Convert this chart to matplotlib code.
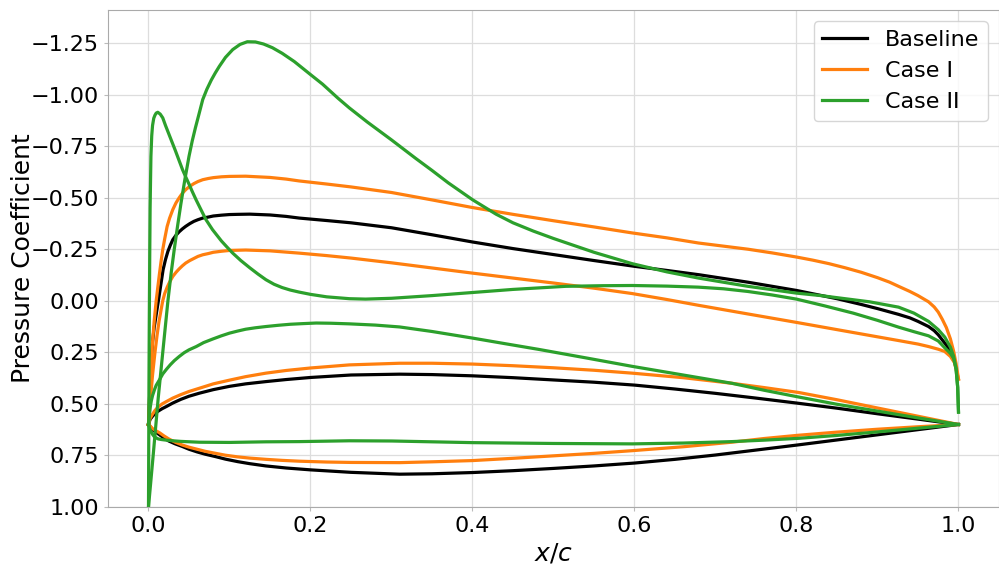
import matplotlib
matplotlib.use("Agg")
import matplotlib.pyplot as plt

# ---- Baseline ----
base_up_x = [0.0, 0.001, 0.002, 0.0035, 0.005, 0.007, 0.009, 0.011, 0.013, 0.0155, 0.018, 0.021, 0.024,
             0.027, 0.030, 0.034, 0.038, 0.042, 0.046, 0.051, 0.056, 0.061, 0.067, 0.074, 0.080, 0.090,
             0.100, 0.110, 0.125, 0.150, 0.170, 0.186, 0.220, 0.250, 0.300, 0.350, 0.400, 0.450, 0.500,
             0.550, 0.600, 0.640, 0.680, 0.740, 0.800, 0.850, 0.880, 0.900, 0.926, 0.940, 0.950, 0.963,
             0.970, 0.975, 0.980, 0.985, 0.989, 0.993]
base_up_cp = [0.60, 0.50, 0.40, 0.29, 0.20, 0.13, 0.08, 0.03, -0.02, -0.085, -0.15, -0.20, -0.24,
              -0.27, -0.296, -0.318, -0.335, -0.349, -0.361, -0.374, -0.385, -0.393, -0.401, -0.406, -0.411, -0.415,
              -0.418, -0.419, -0.420, -0.416, -0.409, -0.401, -0.389, -0.378, -0.354, -0.32, -0.285, -0.253, -0.224,
              -0.195, -0.167, -0.147, -0.126, -0.09, -0.05, -0.01, 0.018, 0.038, 0.066, 0.083, 0.10, 0.125,
              0.145, 0.165, 0.19, 0.215, 0.24, 0.27]

base_lo1_x = [0.0, 0.002, 0.005, 0.008, 0.012, 0.017, 0.022, 0.030, 0.040, 0.050, 0.063, 0.080, 0.100,
              0.120, 0.145, 0.170, 0.200, 0.250, 0.310, 0.350, 0.400, 0.450, 0.500, 0.550, 0.600, 0.650,
              0.700, 0.750, 0.800, 0.850, 0.900, 0.950, 1.0]
base_lo1_cp = [0.60, 0.575, 0.56, 0.547, 0.535, 0.523, 0.513, 0.496, 0.478, 0.463, 0.448, 0.431, 0.415,
               0.403, 0.392, 0.382, 0.372, 0.36, 0.356, 0.358, 0.364, 0.373, 0.384, 0.395, 0.409, 0.428,
               0.449, 0.472, 0.496, 0.521, 0.548, 0.574, 0.60]

base_lo2_x = [0.0, 0.002, 0.005, 0.009, 0.0136, 0.019, 0.025, 0.033, 0.042, 0.050, 0.060, 0.070, 0.083,
              0.095, 0.110, 0.125, 0.145, 0.170, 0.200, 0.250, 0.310, 0.350, 0.400, 0.450, 0.500, 0.550,
              0.600, 0.650, 0.700, 0.750, 0.800, 0.850, 0.900, 0.950, 1.0]
base_lo2_cp = [0.60, 0.61, 0.625, 0.637, 0.65, 0.665, 0.68, 0.694, 0.707, 0.72, 0.733, 0.744, 0.756,
               0.768, 0.78, 0.79, 0.801, 0.811, 0.82, 0.832, 0.841, 0.839, 0.833, 0.824, 0.813, 0.801,
               0.787, 0.769, 0.748, 0.724, 0.70, 0.675, 0.65, 0.625, 0.60]

# ---- Case I ----
c1_up1_x = [0.0, 0.001, 0.002, 0.0035, 0.005, 0.007, 0.0095, 0.0115, 0.0135, 0.0155, 0.0176, 0.020, 0.023,
            0.026, 0.030, 0.034, 0.038, 0.042, 0.046, 0.051, 0.056, 0.061, 0.067, 0.074, 0.080, 0.090,
            0.100, 0.120, 0.150, 0.170, 0.186, 0.220, 0.250, 0.300, 0.350, 0.400, 0.450, 0.500, 0.550,
            0.597, 0.640, 0.679, 0.740, 0.770, 0.800, 0.820, 0.840, 0.860, 0.880, 0.900, 0.915, 0.926,
            0.940, 0.950, 0.963, 0.970, 0.975, 0.980, 0.985, 0.990, 0.994, 0.997, 1.0]
c1_up1_cp = [0.60, 0.50, 0.40, 0.30, 0.20, 0.10, 0.0, -0.065, -0.13, -0.19, -0.248, -0.30, -0.36,
             -0.40, -0.442, -0.475, -0.50, -0.522, -0.539, -0.555, -0.568, -0.578, -0.587, -0.593, -0.597, -0.601,
             -0.603, -0.604, -0.598, -0.59, -0.581, -0.566, -0.552, -0.525, -0.489, -0.452, -0.419, -0.388, -0.358,
             -0.329, -0.305, -0.28, -0.25, -0.232, -0.212, -0.197, -0.18, -0.16, -0.138, -0.112, -0.09, -0.07,
             -0.045, -0.025, 0.005, 0.03, 0.055, 0.09, 0.13, 0.185, 0.245, 0.305, 0.38]

c1_up2_x = [0.0, 0.0015, 0.003, 0.005, 0.008, 0.0105, 0.013, 0.0155, 0.0176, 0.020, 0.023, 0.026, 0.030,
            0.034, 0.038, 0.042, 0.046, 0.051, 0.056, 0.061, 0.067, 0.074, 0.080, 0.090, 0.100, 0.120,
            0.150, 0.186, 0.220, 0.250, 0.300, 0.350, 0.400, 0.450, 0.500, 0.550, 0.597, 0.640, 0.679,
            0.740, 0.800, 0.860, 0.926, 0.950, 0.963, 0.975, 0.983, 0.990, 0.995, 1.0]
c1_up2_cp = [0.60, 0.52, 0.45, 0.36, 0.25, 0.17, 0.10, 0.045, 0.0, -0.035, -0.065, -0.09, -0.118,
             -0.138, -0.155, -0.17, -0.183, -0.195, -0.205, -0.215, -0.223, -0.229, -0.235, -0.24, -0.244, -0.246,
             -0.242, -0.231, -0.219, -0.207, -0.184, -0.159, -0.134, -0.11, -0.086, -0.061, -0.035, -0.006, 0.022,
             0.064, 0.105, 0.147, 0.193, 0.21, 0.222, 0.235, 0.246, 0.27, 0.30, 0.38]

c1_lo1_x = [0.0, 0.002, 0.005, 0.008, 0.012, 0.017, 0.022, 0.030, 0.040, 0.050, 0.063, 0.080, 0.100,
            0.120, 0.145, 0.170, 0.200, 0.248, 0.310, 0.350, 0.400, 0.450, 0.500, 0.550, 0.597, 0.660,
            0.720, 0.760, 0.803, 0.850, 0.900, 0.950, 1.0]
c1_lo1_cp = [0.60, 0.57, 0.55, 0.532, 0.515, 0.50, 0.489, 0.472, 0.455, 0.44, 0.424, 0.403, 0.385,
             0.368, 0.351, 0.338, 0.326, 0.311, 0.303, 0.303, 0.307, 0.315, 0.325, 0.337, 0.351, 0.373,
             0.40, 0.421, 0.445, 0.48, 0.52, 0.56, 0.60]

c1_lo2_x = [0.0, 0.002, 0.005, 0.009, 0.0136, 0.019, 0.025, 0.033, 0.042, 0.050, 0.060, 0.070, 0.083,
            0.095, 0.110, 0.125, 0.145, 0.165, 0.186, 0.220, 0.250, 0.310, 0.350, 0.400, 0.450, 0.500,
            0.550, 0.597, 0.660, 0.720, 0.760, 0.803, 0.850, 0.900, 0.950, 1.0]
c1_lo2_cp = [0.60, 0.607, 0.62, 0.63, 0.64, 0.655, 0.67, 0.686, 0.70, 0.71, 0.72, 0.73, 0.74,
             0.749, 0.757, 0.763, 0.769, 0.774, 0.778, 0.782, 0.784, 0.785, 0.781, 0.775, 0.764, 0.752,
             0.74, 0.727, 0.708, 0.686, 0.668, 0.652, 0.637, 0.623, 0.611, 0.60]

# ---- Case II ----
c2_up1_x = [0.0, 0.006, 0.012, 0.018, 0.024, 0.028, 0.032, 0.036, 0.040, 0.045, 0.050, 0.054, 0.058,
            0.062, 0.067, 0.072, 0.0775, 0.0825, 0.0875, 0.095, 0.104, 0.113, 0.122, 0.132, 0.142, 0.153,
            0.165, 0.180, 0.199, 0.215, 0.234, 0.248, 0.270, 0.300, 0.330, 0.350, 0.370, 0.400, 0.429,
            0.450, 0.475, 0.500, 0.550, 0.597, 0.640, 0.679, 0.740, 0.800, 0.830, 0.860, 0.890, 0.926,
            0.945, 0.963, 0.975, 0.983, 0.990, 0.994, 0.997, 0.999, 1.0]
c2_up1_cp = [1.0, 0.74, 0.472, 0.235, 0.0, -0.135, -0.255, -0.365, -0.47, -0.59, -0.70, -0.775, -0.84,
             -0.90, -0.976, -1.025, -1.07, -1.105, -1.137, -1.18, -1.218, -1.243, -1.256, -1.255, -1.245, -1.227,
             -1.20, -1.16, -1.10, -1.05, -0.982, -0.935, -0.867, -0.78, -0.69, -0.632, -0.572, -0.49, -0.42,
             -0.378, -0.338, -0.302, -0.235, -0.18, -0.14, -0.11, -0.07, -0.037, -0.025, -0.01, 0.005, 0.031,
             0.06, 0.10, 0.14, 0.176, 0.225, 0.27, 0.33, 0.42, 0.54]

c2_up2_x = [0.0, 0.0003, 0.0006, 0.001, 0.0015, 0.002, 0.003, 0.004, 0.005, 0.0065, 0.008, 0.0095, 0.0115,
            0.0145, 0.0176, 0.021, 0.025, 0.029, 0.033, 0.0375, 0.042, 0.046, 0.050, 0.054, 0.0587, 0.065,
            0.071, 0.079, 0.085, 0.090, 0.097, 0.104, 0.114, 0.125, 0.135, 0.145, 0.155, 0.165, 0.175,
            0.186, 0.200, 0.220, 0.248, 0.268, 0.300, 0.350, 0.400, 0.450, 0.515, 0.560, 0.597, 0.640,
            0.679, 0.710, 0.740, 0.770, 0.800, 0.835, 0.870, 0.900, 0.926, 0.945, 0.963, 0.975, 0.983,
            0.990, 0.994, 0.997, 0.999, 1.0]
c2_up2_cp = [1.0, 0.7, 0.4, 0.1, -0.2, -0.45, -0.70, -0.80, -0.85, -0.885, -0.90, -0.91, -0.914,
             -0.905, -0.887, -0.85, -0.81, -0.77, -0.73, -0.683, -0.636, -0.60, -0.566, -0.53, -0.49, -0.44,
             -0.393, -0.345, -0.315, -0.29, -0.26, -0.231, -0.195, -0.16, -0.13, -0.102, -0.08, -0.064, -0.052,
             -0.042, -0.031, -0.019, -0.01, -0.008, -0.012, -0.025, -0.04, -0.055, -0.07, -0.073, -0.074, -0.071,
             -0.066, -0.058, -0.045, -0.028, -0.008, 0.025, 0.06, 0.095, 0.128, 0.15, 0.17, 0.195, 0.228,
             0.255, 0.28, 0.33, 0.42, 0.54]

c2_lo1_x = [0.0, 0.001, 0.002, 0.0035, 0.005, 0.0075, 0.0095, 0.0136, 0.0176, 0.022, 0.027, 0.032, 0.038,
            0.044, 0.050, 0.059, 0.068, 0.079, 0.090, 0.100, 0.110, 0.120, 0.132, 0.145, 0.160, 0.175,
            0.190, 0.207, 0.225, 0.248, 0.280, 0.310, 0.350, 0.400, 0.440, 0.482, 0.540, 0.597, 0.660,
            0.720, 0.760, 0.803, 0.850, 0.900, 0.950, 1.0]
c2_lo1_cp = [0.60, 0.56, 0.52, 0.485, 0.46, 0.43, 0.41, 0.383, 0.355, 0.333, 0.31, 0.29, 0.27,
             0.252, 0.238, 0.222, 0.203, 0.186, 0.17, 0.157, 0.147, 0.138, 0.131, 0.125, 0.119, 0.114,
             0.111, 0.108, 0.109, 0.112, 0.118, 0.127, 0.149, 0.181, 0.208, 0.236, 0.277, 0.318, 0.36,
             0.40, 0.434, 0.467, 0.502, 0.535, 0.568, 0.60]

c2_lo2_x = [0.0, 0.0015, 0.003, 0.005, 0.007, 0.0095, 0.012, 0.016, 0.022, 0.030, 0.040, 0.063, 0.100,
            0.145, 0.186, 0.248, 0.300, 0.350, 0.400, 0.500, 0.597, 0.660, 0.720, 0.760, 0.803, 0.850,
            0.900, 0.950, 1.0]
c2_lo2_cp = [0.60, 0.62, 0.635, 0.648, 0.658, 0.665, 0.67, 0.673, 0.676, 0.679, 0.682, 0.686, 0.687,
             0.684, 0.683, 0.679, 0.680, 0.684, 0.688, 0.692, 0.694, 0.69, 0.683, 0.676, 0.667, 0.653,
             0.636, 0.618, 0.60]

fig = plt.figure(figsize=(9.99, 5.64), dpi=100)
ax = fig.add_axes([0.1081, 0.1011, 0.8919, 0.8812])

lw = 2.3
ax.plot(base_up_x, base_up_cp, color='black', lw=lw, label='Baseline')
ax.plot(base_lo1_x, base_lo1_cp, color='black', lw=lw)
ax.plot(base_lo2_x, base_lo2_cp, color='black', lw=lw)

ax.plot(c1_up1_x, c1_up1_cp, color='#ff7f0e', lw=lw, label='Case I')
ax.plot(c1_up2_x, c1_up2_cp, color='#ff7f0e', lw=lw)
ax.plot(c1_lo1_x, c1_lo1_cp, color='#ff7f0e', lw=lw)
ax.plot(c1_lo2_x, c1_lo2_cp, color='#ff7f0e', lw=lw)

ax.plot(c2_up1_x, c2_up1_cp, color='#2ca02c', lw=lw, label='Case II')
ax.plot(c2_up2_x, c2_up2_cp, color='#2ca02c', lw=lw)
ax.plot(c2_lo1_x, c2_lo1_cp, color='#2ca02c', lw=lw)
ax.plot(c2_lo2_x, c2_lo2_cp, color='#2ca02c', lw=lw)

ax.set_xlim(-0.05, 1.05)
ax.set_ylim(1.0, -1.41)
ax.set_xticks([0.0, 0.2, 0.4, 0.6, 0.8, 1.0])
ax.set_yticks([-1.25, -1.0, -0.75, -0.5, -0.25, 0.0, 0.25, 0.5, 0.75, 1.0])

ax.grid(True, color='#dddddd', lw=0.9)
ax.set_axisbelow(True)
for s in ax.spines.values():
    s.set_color('#aaaaaa')
ax.tick_params(axis='both', labelsize=16, length=3, color='#bbbbbb')

ax.set_xlabel('$x/c$', fontsize=18)
ax.set_ylabel('Pressure Coefficient', fontsize=18, labelpad=-3)
ax.legend(loc='upper right', fontsize=16)

fig.savefig('out.png', dpi=100)
